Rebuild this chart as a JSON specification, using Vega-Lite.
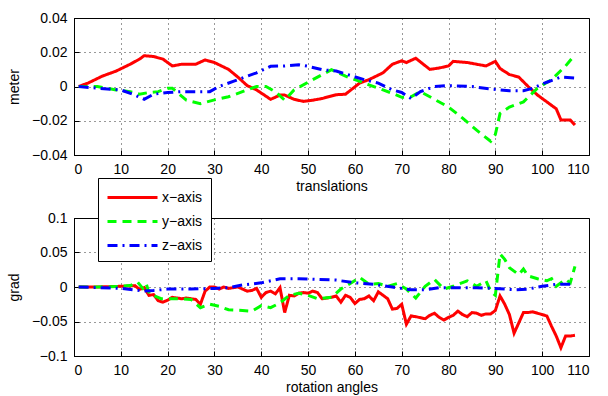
{
  "$schema": "https://vega.github.io/schema/vega-lite/v6.json",
  "padding": {"left": 7, "top": 10, "right": 10, "bottom": 0},
  "background": "white",
  "config": {
    "view": {"stroke": "black", "strokeWidth": 1},
    "axis": {
      "grid": true, "gridDash": [1, 4], "gridColor": "black", "gridOpacity": 0.8, "gridWidth": 1,
      "domain": true, "domainColor": "black", "tickColor": "black", "tickSize": -5,
      "labelFont": "Liberation Sans", "labelFontSize": 14, "labelColor": "black", "labelPadding": 12,
      "titleFont": "Liberation Sans", "titleFontSize": 14, "titleFontWeight": "normal", "titleColor": "black"
    },
    "axisX": {"titlePadding": 3},
    "axisY": {"titlePadding": 10},
    "legend": {
      "labelFont": "Liberation Sans", "labelFontSize": 14, "labelColor": "black"
    }
  },
  "datasets": {
    "tran": [
      {"t":"x−axis","x":1,"v":0},{"t":"x−axis","x":3,"v":0.002},{"t":"x−axis","x":6,"v":0.006},{"t":"x−axis","x":9,"v":0.009},{"t":"x−axis","x":12,"v":0.013},{"t":"x−axis","x":14,"v":0.016},{"t":"x−axis","x":15,"v":0.018},{"t":"x−axis","x":17,"v":0.0175},{"t":"x−axis","x":19,"v":0.016},{"t":"x−axis","x":21,"v":0.012},{"t":"x−axis","x":23,"v":0.013},{"t":"x−axis","x":26,"v":0.013},{"t":"x−axis","x":28,"v":0.0155},{"t":"x−axis","x":30,"v":0.014},{"t":"x−axis","x":33,"v":0.010},{"t":"x−axis","x":35,"v":0.0055},{"t":"x−axis","x":37,"v":0.0005},{"t":"x−axis","x":39,"v":-0.002},{"t":"x−axis","x":42,"v":-0.0075},{"t":"x−axis","x":44,"v":-0.005},{"t":"x−axis","x":45,"v":-0.005},{"t":"x−axis","x":47,"v":-0.0075},{"t":"x−axis","x":49,"v":-0.0087},{"t":"x−axis","x":51,"v":-0.008},{"t":"x−axis","x":53,"v":-0.007},{"t":"x−axis","x":56,"v":-0.0048},{"t":"x−axis","x":58,"v":-0.0045},{"t":"x−axis","x":61,"v":0.002},{"t":"x−axis","x":63,"v":0.004},{"t":"x−axis","x":66,"v":0.008},{"t":"x−axis","x":68,"v":0.013},{"t":"x−axis","x":70,"v":0.015},{"t":"x−axis","x":71,"v":0.014},{"t":"x−axis","x":73,"v":0.0165},{"t":"x−axis","x":76,"v":0.010},{"t":"x−axis","x":78,"v":0.0108},{"t":"x−axis","x":80,"v":0.012},{"t":"x−axis","x":81,"v":0.0147},{"t":"x−axis","x":84,"v":0.014},{"t":"x−axis","x":86,"v":0.013},{"t":"x−axis","x":88,"v":0.012},{"t":"x−axis","x":90,"v":0.0147},{"t":"x−axis","x":91,"v":0.0105},{"t":"x−axis","x":93,"v":0.007},{"t":"x−axis","x":95,"v":0.0055},{"t":"x−axis","x":97,"v":0},{"t":"x−axis","x":99,"v":-0.005},{"t":"x−axis","x":101,"v":-0.009},{"t":"x−axis","x":103,"v":-0.013},{"t":"x−axis","x":104,"v":-0.0195},{"t":"x−axis","x":106,"v":-0.0195},{"t":"x−axis","x":107,"v":-0.0225},
      {"t":"y−axis","x":1,"v":0},{"t":"y−axis","x":5,"v":0},{"t":"y−axis","x":9,"v":-0.002},{"t":"y−axis","x":12,"v":-0.003},{"t":"y−axis","x":14,"v":-0.0045},{"t":"y−axis","x":16,"v":-0.0035},{"t":"y−axis","x":18,"v":-0.003},{"t":"y−axis","x":20,"v":-0.001},{"t":"y−axis","x":21,"v":-0.001},{"t":"y−axis","x":24,"v":-0.008},{"t":"y−axis","x":27,"v":-0.010},{"t":"y−axis","x":30,"v":-0.0078},{"t":"y−axis","x":33,"v":-0.006},{"t":"y−axis","x":37,"v":-0.002},{"t":"y−axis","x":39,"v":0},{"t":"y−axis","x":41,"v":0},{"t":"y−axis","x":43,"v":-0.003},{"t":"y−axis","x":45,"v":-0.008},{"t":"y−axis","x":47,"v":-0.002},{"t":"y−axis","x":51,"v":0.004},{"t":"y−axis","x":55,"v":0.0098},{"t":"y−axis","x":58,"v":0.006},{"t":"y−axis","x":60,"v":0.004},{"t":"y−axis","x":63,"v":0.001},{"t":"y−axis","x":66,"v":-0.002},{"t":"y−axis","x":68,"v":-0.004},{"t":"y−axis","x":70,"v":-0.0063},{"t":"y−axis","x":72,"v":-0.006},{"t":"y−axis","x":74,"v":-0.003},{"t":"y−axis","x":76,"v":-0.006},{"t":"y−axis","x":80,"v":-0.012},{"t":"y−axis","x":83,"v":-0.0185},{"t":"y−axis","x":86,"v":-0.0255},{"t":"y−axis","x":89,"v":-0.032},{"t":"y−axis","x":90,"v":-0.028},{"t":"y−axis","x":91,"v":-0.0157},{"t":"y−axis","x":93,"v":-0.012},{"t":"y−axis","x":96,"v":-0.009},{"t":"y−axis","x":99,"v":-0.001},{"t":"y−axis","x":102,"v":0.004},{"t":"y−axis","x":105,"v":0.012},{"t":"y−axis","x":107,"v":0.0186},
      {"t":"z−axis","x":1,"v":0},{"t":"z−axis","x":5,"v":-0.001},{"t":"z−axis","x":10,"v":-0.002},{"t":"z−axis","x":13,"v":-0.005},{"t":"z−axis","x":15,"v":-0.0075},{"t":"z−axis","x":17,"v":-0.0045},{"t":"z−axis","x":20,"v":-0.0035},{"t":"z−axis","x":23,"v":-0.003},{"t":"z−axis","x":26,"v":-0.003},{"t":"z−axis","x":29,"v":-0.003},{"t":"z−axis","x":31,"v":0},{"t":"z−axis","x":34,"v":0.003},{"t":"z−axis","x":37,"v":0.006},{"t":"z−axis","x":39,"v":0.008},{"t":"z−axis","x":42,"v":0.0118},{"t":"z−axis","x":45,"v":0.012},{"t":"z−axis","x":48,"v":0.0127},{"t":"z−axis","x":50,"v":0.0118},{"t":"z−axis","x":53,"v":0.0098},{"t":"z−axis","x":56,"v":0.009},{"t":"z−axis","x":59,"v":0.0065},{"t":"z−axis","x":62,"v":0.004},{"t":"z−axis","x":65,"v":0.002},{"t":"z−axis","x":68,"v":-0.002},{"t":"z−axis","x":70,"v":-0.0035},{"t":"z−axis","x":72,"v":-0.007},{"t":"z−axis","x":74,"v":-0.003},{"t":"z−axis","x":77,"v":0},{"t":"z−axis","x":80,"v":0.0005},{"t":"z−axis","x":85,"v":0},{"t":"z−axis","x":89,"v":-0.0015},{"t":"z−axis","x":93,"v":-0.0025},{"t":"z−axis","x":96,"v":-0.0025},{"t":"z−axis","x":98,"v":-0.001},{"t":"z−axis","x":101,"v":0.0025},{"t":"z−axis","x":104,"v":0.0055},{"t":"z−axis","x":107,"v":0.005}
    ],
    "rot": [
      {"t":"x−axis","x":1,"v":0},{"t":"x−axis","x":5,"v":0},{"t":"x−axis","x":10,"v":0.001},{"t":"x−axis","x":12,"v":0.0015},{"t":"x−axis","x":13,"v":0.002},{"t":"x−axis","x":14,"v":-0.0035},{"t":"x−axis","x":15,"v":-0.001},{"t":"x−axis","x":16,"v":-0.012},{"t":"x−axis","x":17,"v":-0.011},{"t":"x−axis","x":18,"v":-0.02},{"t":"x−axis","x":19,"v":-0.022},{"t":"x−axis","x":20,"v":-0.019},{"t":"x−axis","x":21,"v":-0.015},{"t":"x−axis","x":23,"v":-0.017},{"t":"x−axis","x":24,"v":-0.016},{"t":"x−axis","x":26,"v":-0.018},{"t":"x−axis","x":27,"v":-0.025},{"t":"x−axis","x":28,"v":-0.006},{"t":"x−axis","x":29,"v":0},{"t":"x−axis","x":30,"v":0},{"t":"x−axis","x":31,"v":-0.003},{"t":"x−axis","x":32,"v":0},{"t":"x−axis","x":33,"v":-0.002},{"t":"x−axis","x":35,"v":0},{"t":"x−axis","x":37,"v":-0.006},{"t":"x−axis","x":38,"v":-0.005},{"t":"x−axis","x":39,"v":-0.002},{"t":"x−axis","x":40,"v":-0.015},{"t":"x−axis","x":41,"v":-0.008},{"t":"x−axis","x":42,"v":-0.006},{"t":"x−axis","x":43,"v":-0.01},{"t":"x−axis","x":44,"v":-0.001},{"t":"x−axis","x":45,"v":-0.037},{"t":"x−axis","x":46,"v":-0.012},{"t":"x−axis","x":47,"v":-0.013},{"t":"x−axis","x":48,"v":-0.009},{"t":"x−axis","x":49,"v":-0.008},{"t":"x−axis","x":50,"v":-0.009},{"t":"x−axis","x":51,"v":-0.006},{"t":"x−axis","x":52,"v":-0.008},{"t":"x−axis","x":53,"v":-0.017},{"t":"x−axis","x":55,"v":-0.015},{"t":"x−axis","x":56,"v":-0.013},{"t":"x−axis","x":57,"v":-0.022},{"t":"x−axis","x":58,"v":-0.012},{"t":"x−axis","x":59,"v":-0.015},{"t":"x−axis","x":60,"v":-0.024},{"t":"x−axis","x":61,"v":-0.018},{"t":"x−axis","x":62,"v":-0.017},{"t":"x−axis","x":63,"v":-0.013},{"t":"x−axis","x":64,"v":-0.02},{"t":"x−axis","x":65,"v":-0.007},{"t":"x−axis","x":66,"v":-0.012},{"t":"x−axis","x":67,"v":-0.017},{"t":"x−axis","x":68,"v":-0.032},{"t":"x−axis","x":69,"v":-0.031},{"t":"x−axis","x":70,"v":-0.025},{"t":"x−axis","x":71,"v":-0.054},{"t":"x−axis","x":72,"v":-0.042},{"t":"x−axis","x":73,"v":-0.043},{"t":"x−axis","x":75,"v":-0.046},{"t":"x−axis","x":76,"v":-0.041},{"t":"x−axis","x":77,"v":-0.038},{"t":"x−axis","x":78,"v":-0.044},{"t":"x−axis","x":79,"v":-0.048},{"t":"x−axis","x":80,"v":-0.044},{"t":"x−axis","x":81,"v":-0.041},{"t":"x−axis","x":82,"v":-0.035},{"t":"x−axis","x":83,"v":-0.04},{"t":"x−axis","x":84,"v":-0.043},{"t":"x−axis","x":85,"v":-0.037},{"t":"x−axis","x":86,"v":-0.038},{"t":"x−axis","x":87,"v":-0.041},{"t":"x−axis","x":88,"v":-0.039},{"t":"x−axis","x":89,"v":-0.039},{"t":"x−axis","x":90,"v":-0.034},{"t":"x−axis","x":91,"v":-0.013},{"t":"x−axis","x":92,"v":-0.025},{"t":"x−axis","x":93,"v":-0.04},{"t":"x−axis","x":94,"v":-0.067},{"t":"x−axis","x":95,"v":-0.052},{"t":"x−axis","x":96,"v":-0.037},{"t":"x−axis","x":97,"v":-0.037},{"t":"x−axis","x":98,"v":-0.036},{"t":"x−axis","x":99,"v":-0.038},{"t":"x−axis","x":100,"v":-0.04},{"t":"x−axis","x":101,"v":-0.042},{"t":"x−axis","x":102,"v":-0.057},{"t":"x−axis","x":103,"v":-0.071},{"t":"x−axis","x":104,"v":-0.088},{"t":"x−axis","x":105,"v":-0.071},{"t":"x−axis","x":106,"v":-0.071},{"t":"x−axis","x":107,"v":-0.07},
      {"t":"y−axis","x":1,"v":0},{"t":"y−axis","x":5,"v":0},{"t":"y−axis","x":10,"v":0.001},{"t":"y−axis","x":12,"v":0.002},{"t":"y−axis","x":13.6,"v":0.007},{"t":"y−axis","x":14.7,"v":-0.002},{"t":"y−axis","x":15.4,"v":0.005},{"t":"y−axis","x":16.1,"v":-0.01},{"t":"y−axis","x":18.6,"v":-0.017},{"t":"y−axis","x":22,"v":-0.017},{"t":"y−axis","x":25,"v":-0.018},{"t":"y−axis","x":27,"v":-0.03},{"t":"y−axis","x":29,"v":-0.025},{"t":"y−axis","x":31,"v":-0.028},{"t":"y−axis","x":33,"v":-0.033},{"t":"y−axis","x":36,"v":-0.034},{"t":"y−axis","x":38,"v":-0.035},{"t":"y−axis","x":40,"v":-0.027},{"t":"y−axis","x":42,"v":-0.03},{"t":"y−axis","x":44,"v":-0.023},{"t":"y−axis","x":46,"v":-0.012},{"t":"y−axis","x":48,"v":-0.009},{"t":"y−axis","x":50,"v":-0.012},{"t":"y−axis","x":52,"v":-0.017},{"t":"y−axis","x":55,"v":-0.015},{"t":"y−axis","x":57,"v":-0.003},{"t":"y−axis","x":59,"v":0.005},{"t":"y−axis","x":61,"v":0.014},{"t":"y−axis","x":63,"v":0.004},{"t":"y−axis","x":65,"v":0.005},{"t":"y−axis","x":67,"v":0.001},{"t":"y−axis","x":69,"v":0.005},{"t":"y−axis","x":71,"v":-0.003},{"t":"y−axis","x":73,"v":-0.016},{"t":"y−axis","x":75,"v":0.001},{"t":"y−axis","x":77,"v":0.011},{"t":"y−axis","x":79,"v":-0.003},{"t":"y−axis","x":81,"v":0.001},{"t":"y−axis","x":82,"v":0.004},{"t":"y−axis","x":84,"v":0.009},{"t":"y−axis","x":86,"v":0.001},{"t":"y−axis","x":88,"v":0.009},{"t":"y−axis","x":89,"v":-0.006},{"t":"y−axis","x":90,"v":-0.012},{"t":"y−axis","x":91,"v":0.048},{"t":"y−axis","x":92,"v":0.04},{"t":"y−axis","x":93,"v":0.028},{"t":"y−axis","x":95,"v":0.018},{"t":"y−axis","x":96,"v":0.026},{"t":"y−axis","x":97,"v":0.016},{"t":"y−axis","x":99,"v":0.012},{"t":"y−axis","x":101,"v":0.009},{"t":"y−axis","x":102,"v":0.012},{"t":"y−axis","x":103,"v":0.001},{"t":"y−axis","x":105,"v":0.011},{"t":"y−axis","x":106,"v":0.006},{"t":"y−axis","x":107,"v":0.03},
      {"t":"z−axis","x":1,"v":0},{"t":"z−axis","x":5,"v":-0.001},{"t":"z−axis","x":10,"v":-0.002},{"t":"z−axis","x":15,"v":-0.006},{"t":"z−axis","x":17,"v":-0.005},{"t":"z−axis","x":20,"v":-0.003},{"t":"z−axis","x":25,"v":-0.003},{"t":"z−axis","x":30,"v":-0.002},{"t":"z−axis","x":33,"v":-0.001},{"t":"z−axis","x":36,"v":0.003},{"t":"z−axis","x":40,"v":0.006},{"t":"z−axis","x":44,"v":0.012},{"t":"z−axis","x":48,"v":0.012},{"t":"z−axis","x":52,"v":0.011},{"t":"z−axis","x":56,"v":0.01},{"t":"z−axis","x":60,"v":0.006},{"t":"z−axis","x":64,"v":0.004},{"t":"z−axis","x":68,"v":0},{"t":"z−axis","x":72,"v":-0.004},{"t":"z−axis","x":75,"v":-0.004},{"t":"z−axis","x":78,"v":-0.001},{"t":"z−axis","x":82,"v":-0.001},{"t":"z−axis","x":86,"v":-0.001},{"t":"z−axis","x":90,"v":-0.002},{"t":"z−axis","x":94,"v":-0.004},{"t":"z−axis","x":97,"v":-0.003},{"t":"z−axis","x":100,"v":0.001},{"t":"z−axis","x":103,"v":0.004},{"t":"z−axis","x":107,"v":0.004}
    ]
  },
  "spacing": 16,
  "vconcat": [
    {
      "width": 515, "height": 137,
      "data": {"name": "tran"},
      "mark": {"type": "line", "strokeWidth": 3, "clip": true},
      "encoding": {
        "x": {"field": "x", "type": "quantitative", "title": "translations",
              "scale": {"domain": [0, 110], "nice": false},
              "axis": {"values": [0,10,20,30,40,50,60,70,80,90,100,110]}},
        "y": {"field": "v", "type": "quantitative", "title": "meter",
              "scale": {"domain": [-0.04, 0.04], "nice": false},
              "axis": {"values": [-0.04,-0.02,0,0.02,0.04], "format": ".2~f"}},
        "color": {"field": "t", "type": "nominal", "title": null,
                  "scale": {"domain": ["x−axis","y−axis","z−axis"], "range": ["#ff0000","#00ff00","#0000ff"]},
                  "legend": {"orient": "none", "legendX": 24, "legendY": 160, "symbolType": "M-1,0H4", "symbolSize": 400, "symbolStrokeWidth": 3,
                             "strokeColor": "black", "fillColor": "white", "padding": 8, "rowPadding": 5, "labelOffset": 33}},
        "strokeDash": {"field": "t", "type": "nominal", "title": null,
                  "scale": {"domain": ["x−axis","y−axis","z−axis"], "range": [[1,0],[9,6],[10,5,2,5]]},
                  "legend": {"orient": "none", "legendX": 24, "legendY": 160, "symbolType": "M-1,0H4", "symbolSize": 400, "symbolStrokeWidth": 3,
                             "strokeColor": "black", "fillColor": "white", "padding": 8, "rowPadding": 5, "labelOffset": 33}}
      }
    },
    {
      "width": 515, "height": 138,
      "data": {"name": "rot"},
      "mark": {"type": "line", "strokeWidth": 3, "clip": true},
      "encoding": {
        "x": {"field": "x", "type": "quantitative", "title": "rotation angles",
              "scale": {"domain": [0, 110], "nice": false},
              "axis": {"values": [0,10,20,30,40,50,60,70,80,90,100,110]}},
        "y": {"field": "v", "type": "quantitative", "title": "grad",
              "scale": {"domain": [-0.1, 0.1], "nice": false},
              "axis": {"values": [-0.1,-0.05,0,0.05,0.1], "format": ".2~f"}},
        "color": {"field": "t", "type": "nominal", "title": null,
                  "scale": {"domain": ["x−axis","y−axis","z−axis"], "range": ["#ff0000","#00ff00","#0000ff"]},
                  "legend": {"orient": "none", "legendX": 24, "legendY": 160, "symbolType": "M-1,0H4", "symbolSize": 400, "symbolStrokeWidth": 3,
                             "strokeColor": "black", "fillColor": "white", "padding": 8, "rowPadding": 5, "labelOffset": 33}},
        "strokeDash": {"field": "t", "type": "nominal", "title": null,
                  "scale": {"domain": ["x−axis","y−axis","z−axis"], "range": [[1,0],[9,6],[10,5,2,5]]},
                  "legend": {"orient": "none", "legendX": 24, "legendY": 160, "symbolType": "M-1,0H4", "symbolSize": 400, "symbolStrokeWidth": 3,
                             "strokeColor": "black", "fillColor": "white", "padding": 8, "rowPadding": 5, "labelOffset": 33}}
      }
    }
  ]
}
